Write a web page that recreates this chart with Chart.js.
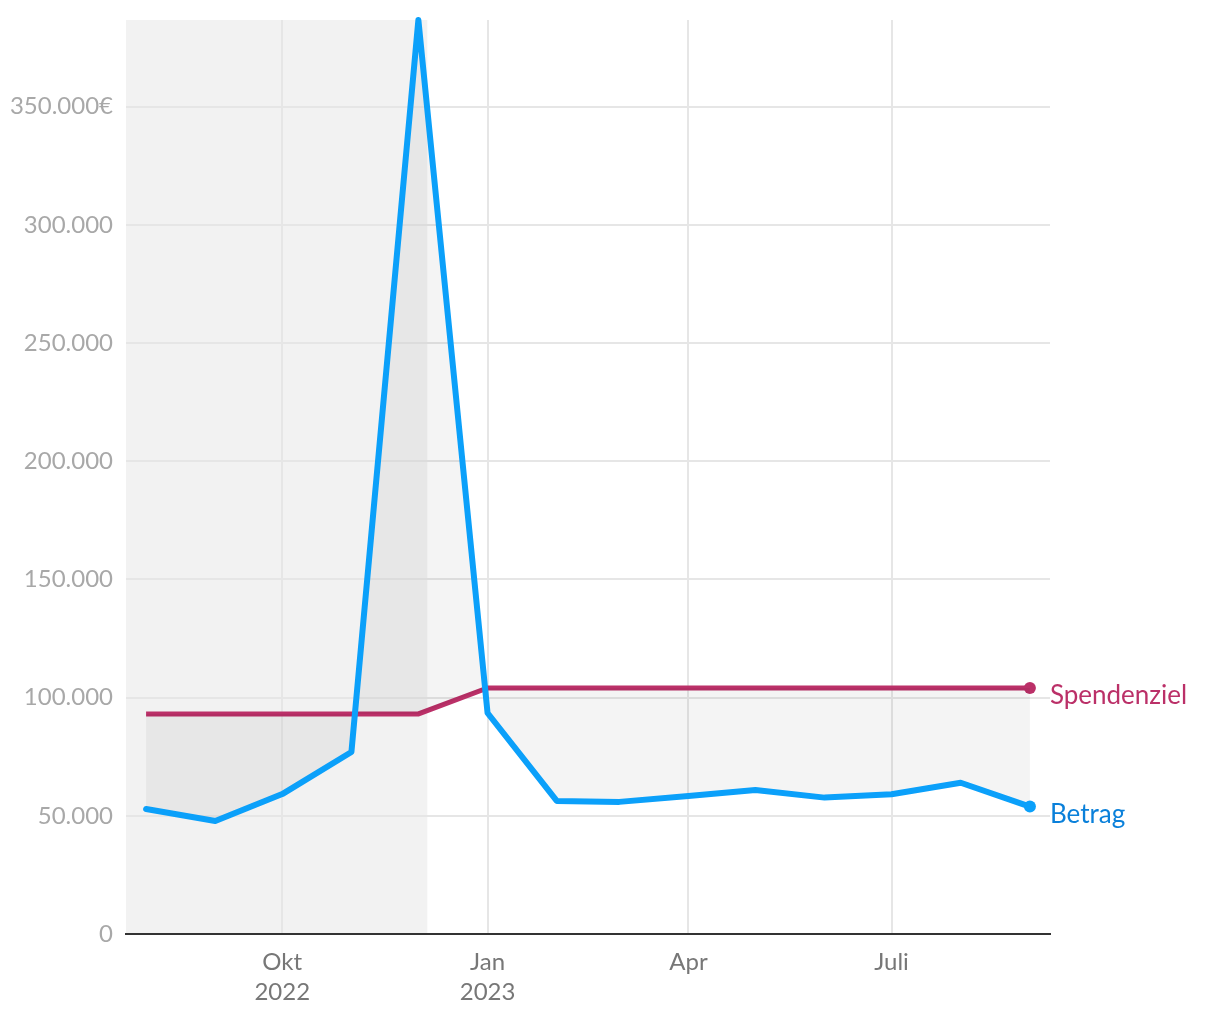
<!DOCTYPE html>
<html><head><meta charset="utf-8">
<script src="https://cdn.jsdelivr.net/npm/chart.js@4/dist/chart.umd.min.js"></script>
<style>html,body{margin:0;padding:0;background:#fff}#wrap{width:1220px;height:1020px}</style>
</head><body><div id="wrap"><canvas id="c" width="1220" height="1020"></canvas></div>
<script>
// Monthly dates (first of month), Aug 2022 .. Sep 2023
const months = ["2022-08","2022-09","2022-10","2022-11","2022-12","2023-01","2023-02","2023-03","2023-04","2023-05","2023-06","2023-07","2023-08","2023-09"];
const betrag = [52900, 47800, 59200, 77000, 386700, 93500, 56300, 55900, 58400, 60900, 57700, 59100, 64000, 53900];
const spendenziel = [93100, 93100, 93100, 93100, 93100, 104100, 104100, 104100, 104100, 104100, 104100, 104100, 104100, 104100];
const tickDates = ["2022-10-01","2023-01-01","2023-04-01","2023-07-01"];
const tickLabels = [["Okt","2022"],["Jan","2023"],["Apr"],["Juli"]];
const yTicks = [0,50000,100000,150000,200000,250000,300000,350000];
const xRange = ["2022-07-23","2023-09-10"];
const bandRange = ["2022-07-23","2022-12-05"];
const seriesNames = ["Betrag","Spendenziel"];

const ts = s => Date.parse(s.length===7 ? s+"-01T00:00:00Z" : s+"T00:00:00Z");
const FONT = "Lato";
const fmt = v => v.toLocaleString('de-DE');

const bandPlugin = {
  id:'band',
  beforeDraw(chart){
    const {ctx, chartArea:a, scales:{x}} = chart;
    const x1 = x.getPixelForValue(ts(bandRange[1]));
    ctx.save();
    ctx.fillStyle = '#f2f2f2';
    ctx.fillRect(a.left, a.top, x1 - a.left, a.bottom - a.top);
    ctx.restore();
  }
};
const endLabels = {
  id:'endLabels',
  afterDatasetsDraw(chart){
    const ctx = chart.ctx;
    ctx.save();
    ctx.font = "26px " + FONT;
    ctx.textBaseline = 'middle';
    ctx.textAlign = 'left';
    chart.data.datasets.forEach((ds,i)=>{
      const meta = chart.getDatasetMeta(i);
      const p = meta.data[meta.data.length-1];
      ctx.fillStyle = ds.labelColor;
      ctx.fillText(ds.label, p.x + 20, p.y + 8);
    });
    ctx.restore();
  }
};

const last = betrag.length - 1;
const radii = betrag.map((_,i)=> i===last ? 6 : 0);

new Chart(document.getElementById('c'), {
  type:'line',
  data:{
    datasets:[
      {label:seriesNames[0], data: months.map((m,i)=>({x:ts(m), y:betrag[i]})),
       borderColor:'#0ba0fa', backgroundColor:'#0ba0fa', borderWidth:6, labelColor:'#0a80da',
       pointRadius:radii, pointBackgroundColor:'#0ba0fa', pointBorderWidth:0,
       fill:{target:1, above:'rgba(0,0,0,0.045)', below:'rgba(0,0,0,0.045)'},
       tension:0, clip:false, borderJoinStyle:'round', borderCapStyle:'round', order:0},
      {label:seriesNames[1], data: months.map((m,i)=>({x:ts(m), y:spendenziel[i]})),
       borderColor:'#bb3068', backgroundColor:'#bb3068', borderWidth:5, labelColor:'#bb3068',
       pointRadius:radii, pointBackgroundColor:'#bb3068', pointBorderWidth:0,
       fill:false, tension:0, clip:false, order:1}
    ]
  },
  options:{
    responsive:false, animation:false,
    layout:{padding:{left:0, right:170, top:20, bottom:0}},
    plugins:{legend:{display:false}, tooltip:{enabled:false}},
    scales:{
      x:{type:'linear', min:ts(xRange[0]), max:ts(xRange[1]),
        afterBuildTicks(s){ s.ticks = tickDates.map(d=>({value:ts(d)})); },
        afterFit(s){ s.height = 86; s.paddingLeft = 0; s.paddingRight = 0; },
        ticks:{autoSkip:false, maxRotation:0, padding:13, color:'#777', font:{family:FONT, size:24, lineHeight:1.25},
          callback:(v,i)=>tickLabels[i]},
        grid:{color:'#e6e6e6', lineWidth:2, drawTicks:false},
        border:{display:true, color:'#333', width:2}
      },
      y:{type:'linear', min:0, max:Math.max(...betrag),
        afterBuildTicks(s){ s.ticks = yTicks.map(v=>({value:v})); },
        afterFit(s){ s.width = 126; s.paddingTop = 0; s.paddingBottom = 0; },
        ticks:{padding:13, color:'#a8a8a8', font:{family:FONT, size:24},
          callback:(v)=> v===yTicks[yTicks.length-1] ? fmt(v)+'€' : fmt(v)},
        grid:{color:'#e6e6e6', lineWidth:2, drawTicks:false},
        border:{display:false}
      }
    }
  },
  plugins:[bandPlugin, endLabels]
});
</script></body></html>
